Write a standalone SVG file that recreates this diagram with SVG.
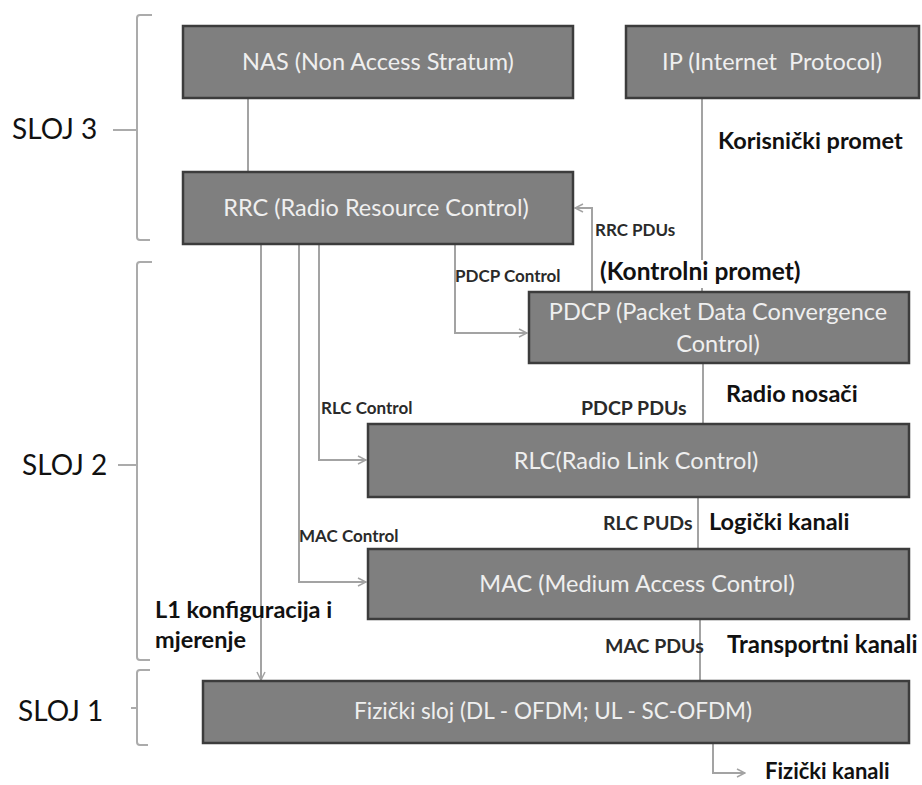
<svg xmlns="http://www.w3.org/2000/svg" width="922" height="785" viewBox="0 0 922 785">
<defs>
<style>
.box{fill:#7f7f7f;stroke:#3c3c3c;stroke-width:2.5}
.bt{font-family:Lato,"Liberation Sans",sans-serif;font-size:23.5px;fill:#efefef;text-anchor:middle}
.ln{fill:none;stroke:#a3a3a3;stroke-width:2}
.br{fill:none;stroke:#ababab;stroke-width:2}
.lay{font-family:Lato,"Liberation Sans",sans-serif;font-size:28px;fill:#111}
.lb{font-family:Lato,"Liberation Sans",sans-serif;font-size:23.5px;font-weight:bold;fill:#111}
.sm{font-family:Lato,"Liberation Sans",sans-serif;font-size:17px;font-weight:bold;fill:#2a2a2a}
.md{font-family:Lato,"Liberation Sans",sans-serif;font-size:19.5px;font-weight:bold;fill:#2a2a2a}
</style>
<marker id="ar" viewBox="0 0 10 10" refX="9" refY="5" markerWidth="10" markerHeight="10" markerUnits="userSpaceOnUse" orient="auto">
<path d="M1,1 L9,5 L1,9" fill="none" stroke="#a3a3a3" stroke-width="1.5"/>
</marker>
</defs>
<rect width="922" height="785" fill="#fff"/>

<g id="brackets">
<path class="br" d="M152,15 H140 Q137,15 137,18 V237 Q137,240 140,240 H150"/>
<path class="br" d="M113,130 H137"/>
<path class="br" d="M152,262 H140 Q137,262 137,265 V657 Q137,660 140,660 H150"/>
<path class="br" d="M118,465 H137"/>
<path class="br" d="M150,670 H140 Q137,670 137,673 V742 Q137,745 140,745 H148"/>
<path class="br" d="M131,708 H137"/>
</g>
<g id="layers">
<text class="lay" x="12" y="139">SLOJ 3</text>
<text class="lay" x="22" y="475">SLOJ 2</text>
<text class="lay" x="18" y="721">SLOJ 1</text>
</g>

<g id="connectors">
<path class="ln" d="M248,98 V172"/>
<path class="ln" d="M702,98 V260 M702,288 V292"/>
<path class="ln" d="M592,292 V208 H575" marker-end="url(#ar)"/>
<path class="ln" d="M455,245 V333 H527" marker-end="url(#ar)"/>
<path class="ln" d="M319,245 V460 H366" marker-end="url(#ar)"/>
<path class="ln" d="M299,245 V582 H366" marker-end="url(#ar)"/>
<path class="ln" d="M261,245 V680" marker-end="url(#ar)"/>
<path class="ln" d="M703,363 V423"/>
<path class="ln" d="M698,497 V548"/>
<path class="ln" d="M700,620 V680"/>
<path class="ln" d="M713,743 V773 H745" marker-end="url(#ar)"/>
</g>

<g id="nas"><rect class="box" x="183" y="26" width="390" height="72"/><text class="bt" x="378" y="70">NAS (Non Access Stratum)</text></g>
<g id="ip"><rect class="box" x="626" y="26" width="293" height="72"/><text class="bt" x="772" y="70" xml:space="preserve">IP (Internet  Protocol)</text></g>
<g id="rrc"><rect class="box" x="183" y="172" width="390" height="72"/><text class="bt" x="376" y="216">RRC (Radio Resource Control)</text></g>
<g id="pdcp"><rect class="box" x="529" y="292" width="380" height="71"/><text class="bt" x="718" y="320">PDCP (Packet Data Convergence</text><text class="bt" x="718" y="352">Control)</text></g>
<g id="rlc"><rect class="box" x="368" y="424" width="541" height="73"/><text class="bt" x="636" y="469">RLC(Radio Link Control)</text></g>
<g id="mac"><rect class="box" x="368" y="549" width="541" height="70"/><text class="bt" x="637" y="592">MAC (Medium Access Control)</text></g>
<g id="phy"><rect class="box" x="203" y="681" width="706" height="62"/><text class="bt" x="553" y="719" style="font-size:22.5px">Fizički sloj (DL - OFDM; UL - SC-OFDM)</text></g>

<g id="labels">
<text class="lb" x="718" y="149">Korisnički promet</text>
<text class="sm" x="595" y="236">RRC PDUs</text>
<text class="lb" x="600" y="280" style="font-size:24.5px">(Kontrolni promet)</text>
<text class="sm" x="455" y="282">PDCP Control</text>
<text class="lb" x="726" y="402">Radio nosači</text>
<text class="md" x="581" y="415">PDCP PDUs</text>
<text class="sm" x="321" y="414">RLC Control</text>
<text class="md" x="603" y="530">RLC PUDs</text>
<text class="lb" x="709" y="530">Logički kanali</text>
<text class="sm" x="299" y="542">MAC Control</text>
<text class="lb" x="155" y="618">L1 konfiguracija i</text>
<text class="lb" x="155" y="648">mjerenje</text>
<text class="md" x="605" y="653">MAC PDUs</text>
<text class="lb" x="727" y="653" style="font-size:24px">Transportni kanali</text>
<text class="lb" x="765" y="779" style="font-size:22px">Fizički kanali</text>
</g>
</svg>
